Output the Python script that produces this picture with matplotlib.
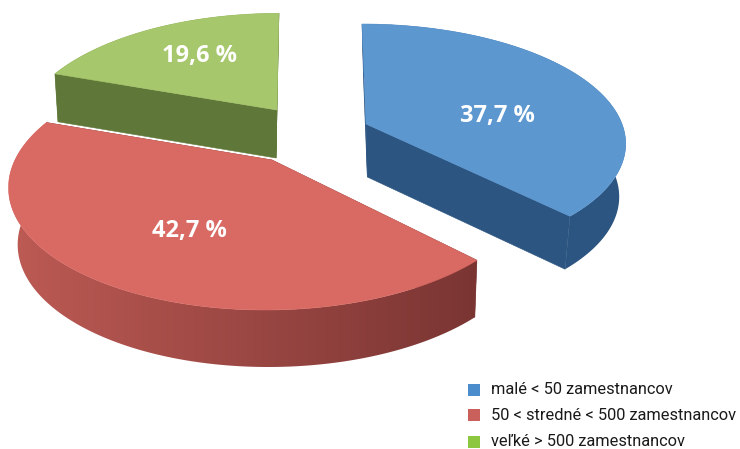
import numpy as np
import matplotlib
matplotlib.use('Agg')
import matplotlib.pyplot as plt
from matplotlib.colors import LinearSegmentedColormap
from matplotlib.patches import Polygon, Rectangle

# data
labels = ['malé < 50 zamestnancov', '50 < stredné < 500 zamestnancov', 'veľké > 500 zamestnancov']
shares = [37.7, 42.7, 19.6]
share_labels = ['37,7 %', '42,7 %', '19,6 %']

# style of each slice
top_colors = ['#5c97d0', '#d96a63', '#a6c76c']
side_left = ['#2c5581', '#bd5a54', '#5f7839']
side_right = ['#2c5581', '#7a3533', '#5f7839']
legend_colors = ['#4a8ccc', '#c9605c', '#8dc63f']
apex_x = [366, 272, 277]
apex_y = [124, 160, 110]
width = [256, 257, 252]
height = [115, 120, 116]
persp = [0.15, 0.2, 0.2]
lean = [0.04, -0.045, -0.02]
depth = [53, 57, 48]
shrink = [0.03, 0.024, 0.018]
vanish_x = [410, 390, 222]
label_x = [497, 189, 200]
label_y = [116, 231, 56]
legend_y = [390, 415, 442]

fig = plt.figure(figsize=(7.4, 4.49), dpi=100)
ax = fig.add_axes([0, 0, 1, 1])
ax.axis('off')


# angle (clockwise from top) -> picture position, far side of the pie is squeezed
def project(i, theta):
    X = np.sin(theta)
    Y = -np.cos(theta)
    w = 1 - persp[i] * Y
    y = height[i] * Y / w
    x = width[i] * X / w + lean[i] * y
    return apex_x[i] + x, apex_y[i] + y


def lower(i, x, y):
    return x + (vanish_x[i] - x) * shrink[i], y + depth[i]


def draw_slice(i, start, end, z):
    thetas = np.linspace(start, end, 200)
    xs, ys = project(i, thetas)
    low_x, low_y = lower(i, xs, ys)
    a_low_x, a_low_y = lower(i, apex_x[i], apex_y[i])

    # the cut faces, under the rim
    for k in [0, -1]:
        pts = [(apex_x[i], apex_y[i]), (xs[k], ys[k]), (low_x[k], low_y[k]), (a_low_x, a_low_y)]
        ax.add_patch(Polygon(pts, closed=True, fc=side_right[i], ec=side_right[i], lw=0.4, zorder=z - 0.1))

    # outer rim, shaded from left to right
    rim = np.column_stack([np.r_[xs, low_x[::-1]], np.r_[ys, low_y[::-1]]])
    rim_patch = Polygon(rim, closed=True, fc='none', ec='none', transform=ax.transData)
    ax.add_patch(rim_patch)
    cmap = LinearSegmentedColormap.from_list('rim', [side_left[i], side_right[i]])
    im = ax.imshow(np.linspace(0, 1, 256).reshape(1, -1), cmap=cmap, aspect='auto', interpolation='bilinear',
                   extent=[rim[:, 0].min(), rim[:, 0].max(), rim[:, 1].max(), rim[:, 1].min()], zorder=z)
    im.set_clip_path(rim_patch)

    # top surface
    pts = [(apex_x[i], apex_y[i])] + list(zip(xs, ys))
    ax.add_patch(Polygon(pts, closed=True, fc=top_colors[i], ec=top_colors[i], lw=0.4, zorder=z + 0.5))


edges = np.cumsum([0] + shares) / sum(shares) * 2 * np.pi
slice_z = [4, 5, 3]
for i in range(len(shares)):
    draw_slice(i, edges[i], edges[i + 1], slice_z[i])
    ax.text(label_x[i], label_y[i], share_labels[i], color='white', fontsize=17, fontweight='bold',
            family='Open Sans', ha='center', va='center', zorder=10)

for i in range(len(labels)):
    ax.add_patch(Rectangle((468, legend_y[i] - 6), 12, 12, fc=legend_colors[i], ec='none', zorder=10))
    ax.text(491, legend_y[i], labels[i], color='#1a1a1a', fontsize=11.8, va='center', ha='left',
            family='Roboto', zorder=10)

ax.set_xlim(0, 740)
ax.set_ylim(449, 0)
fig.savefig('out.png', dpi=100)
